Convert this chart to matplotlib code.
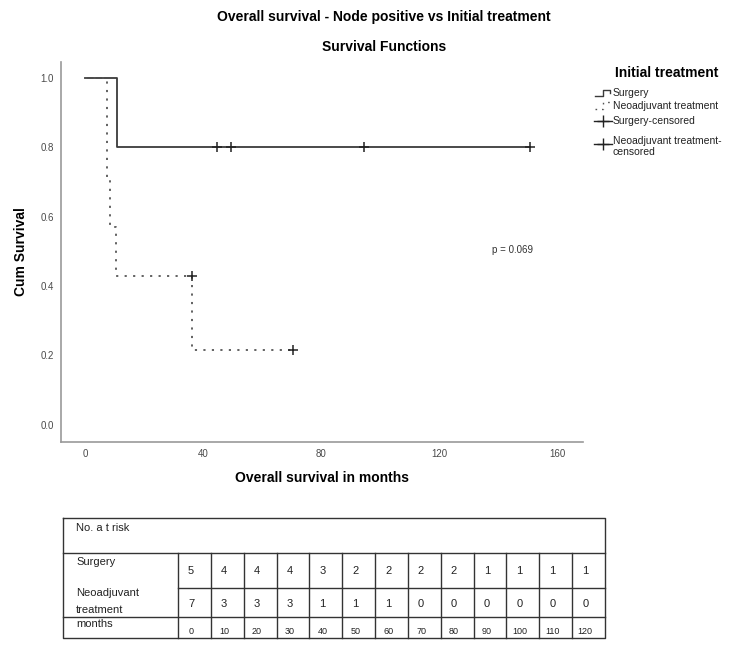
#!/usr/bin/env python3
"""Kaplan-Meier: overall survival, node positive vs initial treatment"""
import numpy as np
import matplotlib
matplotlib.use('Agg')
import matplotlib.pyplot as plt

plt.rcParams['font.family'] = ['Liberation Sans', 'DejaVu Sans']

# ------------------------------------------------------------
#  data
# ------------------------------------------------------------
surg_t = [0, 10.8, 150.8]
surg_s = [1.0, 0.8, 0.8]
surg_cens_t = [44.6, 49.5, 94.6, 150.8]
surg_cens_s = [0.8, 0.8, 0.8, 0.8]

neo_t = [0, 7.4, 8.5, 10.4, 36.4, 70.5]
neo_s = [1.0, 0.714, 0.571, 0.429, 0.214, 0.214]
neo_cens_t = [36.2, 70.5]
neo_cens_s = [0.429, 0.214]

x_ticks = [0, 40, 80, 120, 160]
y_ticks = [0.0, 0.2, 0.4, 0.6, 0.8, 1.0]

risk_months = [0, 10, 20, 30, 40, 50, 60, 70, 80, 90, 100, 110, 120]
risk_surgery = [5, 4, 4, 4, 3, 2, 2, 2, 2, 1, 1, 1, 1]
risk_neo = [7, 3, 3, 3, 1, 1, 1, 0, 0, 0, 0, 0, 0]

W, H = 735, 645
fig = plt.figure(figsize=(W / 100, H / 100), dpi=100)

# ------------------------------------------------------------
#  survival plot
# ------------------------------------------------------------
ax = fig.add_axes([61 / W, 1 - 442 / H, (583 - 61) / W, (442 - 62) / H])
ax.step(surg_t, surg_s, where='post', color='#3a3a3a', lw=1.3)
ax.step(neo_t, neo_s, where='post', color='#555555', lw=1.3,
        linestyle=(0, (1.2, 3.5)))
ax.plot(surg_cens_t, surg_cens_s, '+', color='#222222', ms=7, mew=1.1)
ax.plot(neo_cens_t, neo_cens_s, '+', color='#222222', ms=7, mew=1.1)

ax.set_xlim(-8.1, 168.8)
ax.set_ylim(-0.05, 1.046)
ax.set_xticks(x_ticks)
ax.set_yticks(y_ticks)
ax.set_yticklabels([f'{v:.1f}' for v in y_ticks])
ax.tick_params(length=0, labelsize=7, labelcolor='#4a4a4a', pad=5)
for s in ['top', 'right']:
    ax.spines[s].set_visible(False)
for s in ['left', 'bottom']:
    ax.spines[s].set_color('#999999')
    ax.spines[s].set_linewidth(1.2)

ax.set_xlabel('Overall survival in months', fontsize=10, fontweight='bold', labelpad=9)
ax.set_ylabel('Cum Survival', fontsize=10, fontweight='bold', labelpad=9)
ax.text(492 / W, 395 / H, 'p = 0.069', transform=fig.transFigure, fontsize=7,
        color='#333333', va='center')

fig.text(384 / W, 1 - 17 / H, 'Overall survival - Node positive vs Initial treatment',
         ha='center', va='center', fontsize=10, fontweight='bold')
fig.text(384 / W, 1 - 47 / H, 'Survival Functions',
         ha='center', va='center', fontsize=10, fontweight='bold')

# ------------------------------------------------------------
#  overlay in pixel coords for legend + risk table
# ------------------------------------------------------------
ov = fig.add_axes([0, 0, 1, 1], zorder=-1)
ov.set_xlim(0, W); ov.set_ylim(H, 0); ov.axis('off')

# legend
ov.text(667, 73, 'Initial treatment', ha='center', va='center', fontsize=10, fontweight='bold')
ov.plot([595, 603, 603, 610, 610], [96, 96, 90, 90, 93], color='#3a3a3a', lw=1)
ov.plot([595, 603, 603, 610, 610], [109, 109, 102, 102, 105], color='#555555', lw=1,
        linestyle=(0, (1.2, 3.5)))
ov.plot([594, 612], [121, 121], color='#222222', lw=1)
ov.plot([603], [121], '+', color='#222222', ms=8, mew=1)
ov.plot([594, 612], [144, 144], color='#222222', lw=1)
ov.plot([603], [144], '+', color='#222222', ms=8, mew=1)
leg_kw = dict(fontsize=7.5, va='center', ha='left', color='#222222')
ov.text(613, 93, 'Surgery', **leg_kw)
ov.text(613, 106, 'Neoadjuvant treatment', **leg_kw)
ov.text(613, 121, 'Surgery-censored', **leg_kw)
ov.text(613, 141, 'Neoadjuvant treatment-', **leg_kw)
ov.text(613, 152, 'censored', **leg_kw)

# risk table
x0, x1, c0 = 63, 605, 178
y_top, y_hdr, y_mid, y_mon, y_bot = 518, 553, 588, 617, 638
n = len(risk_months)
cw = (x1 - c0) / n
lk = dict(color='#333333', lw=1)
ov.plot([x0, x1, x1, x0, x0], [y_top, y_top, y_bot, y_bot, y_top], **lk)
ov.plot([x0, x1], [y_hdr, y_hdr], **lk)
ov.plot([c0, x1], [y_mid, y_mid], **lk)
ov.plot([x0, x1], [y_mon, y_mon], **lk)
for i in range(n):
    xc = c0 + i * cw
    ov.plot([xc, xc], [y_hdr, y_bot], **lk)

tk = dict(fontsize=8, color='#222222', va='center')
ov.text(76, 528, 'No. a t risk', ha='left', **tk)
ov.text(76, 562, 'Surgery', ha='left', **tk)
ov.text(76, 593, 'Neoadjuvant', ha='left', **tk)
ov.text(76, 610, 'treatment', ha='left', **tk)
ov.text(76, 624, 'months', ha='left', **tk)
for i in range(n):
    xc = c0 + (i + 0.4) * cw
    ov.text(xc, 571, str(risk_surgery[i]), ha='center', **tk)
    ov.text(xc, 604, str(risk_neo[i]), ha='center', **tk)
    ov.text(xc, 631, str(risk_months[i]), ha='center', fontsize=6.5,
            color='#222222', va='center')

plt.savefig('out.png', dpi=100)
plt.close()
